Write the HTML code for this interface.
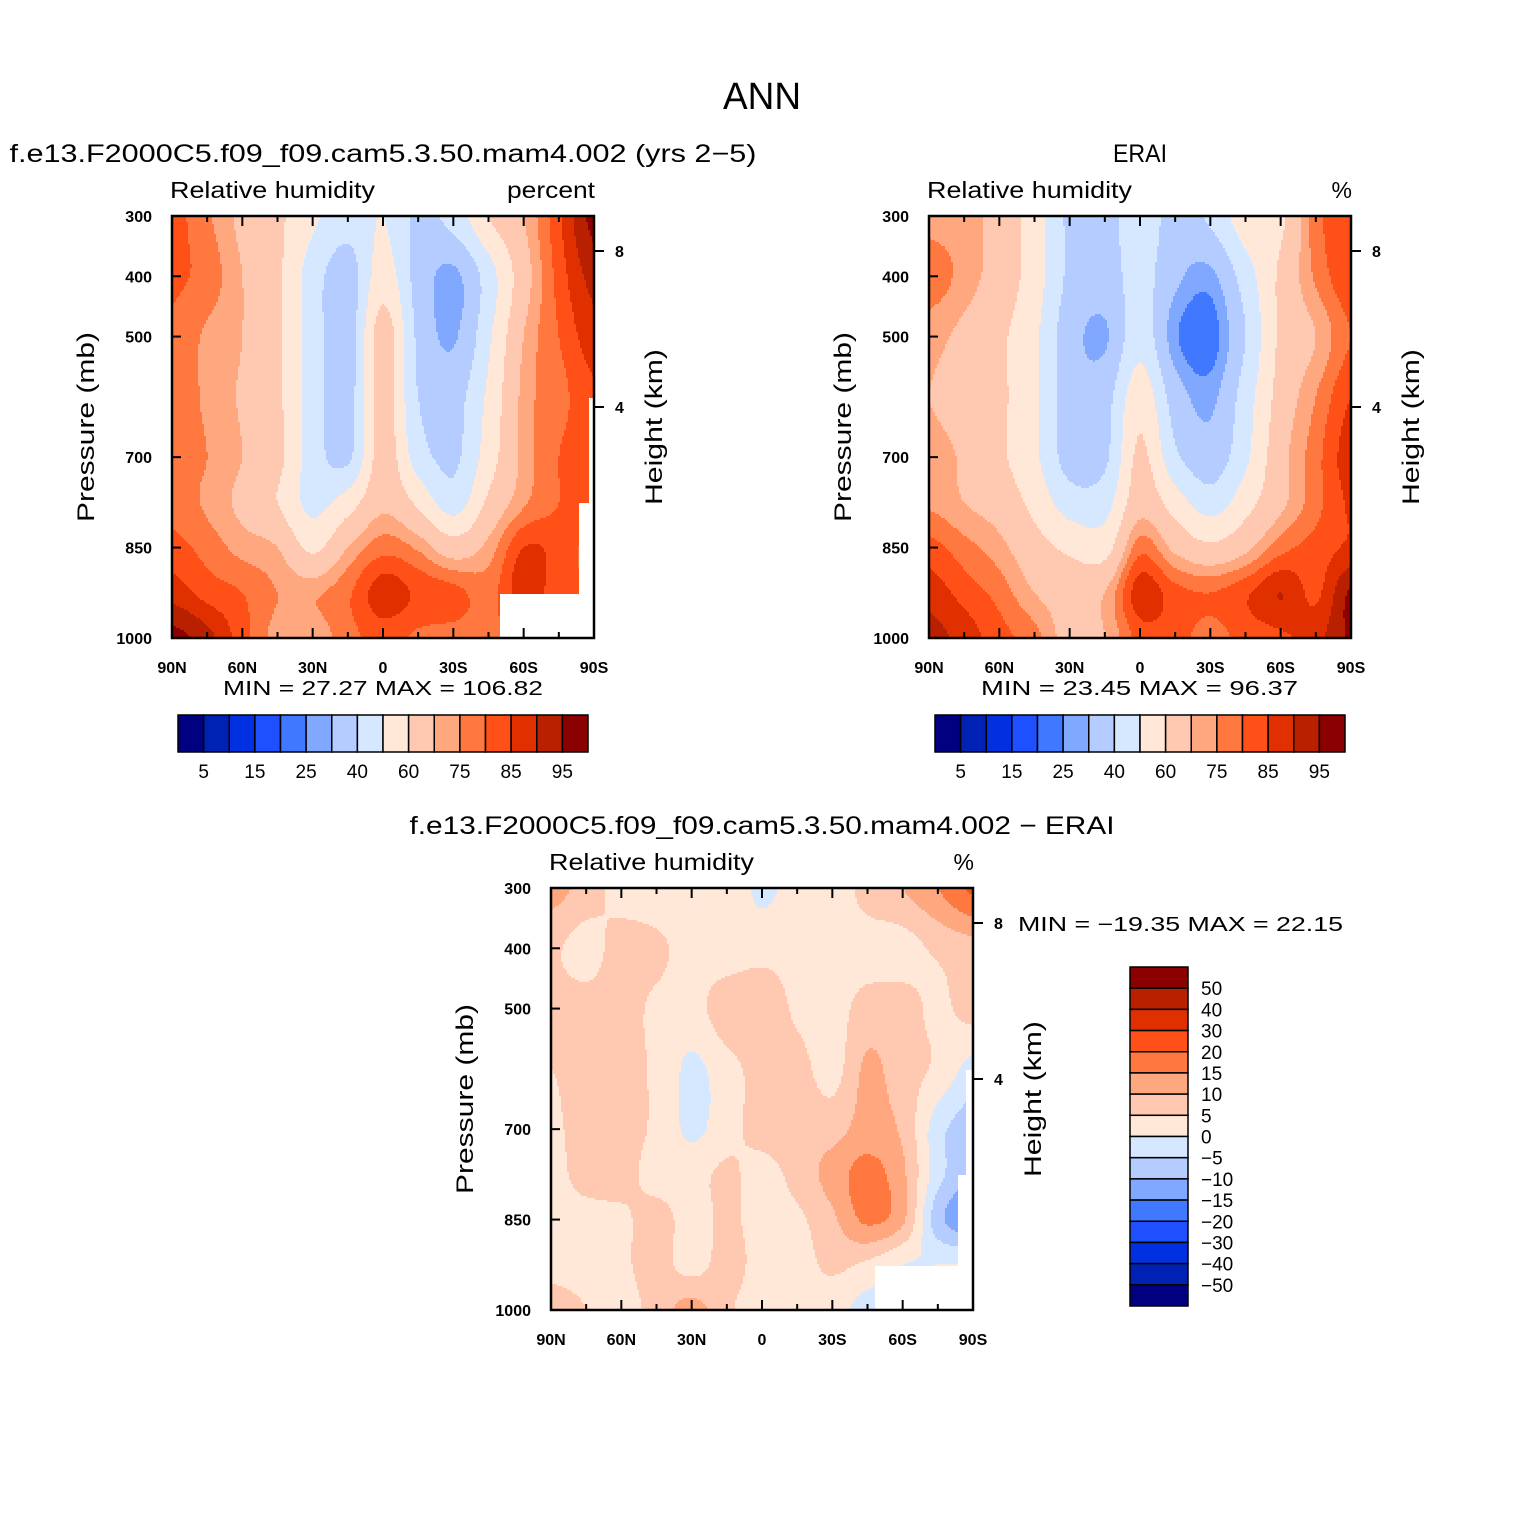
<!DOCTYPE html>
<html><head><meta charset="utf-8">
<style>
html,body{margin:0;padding:0;background:#fff;}
svg{display:block;font-family:"Liberation Sans",sans-serif;}
</style></head>
<body>
<svg id="fig" width="1524" height="1524" viewBox="0 0 1524 1524" xmlns="http://www.w3.org/2000/svg">
<rect x="0" y="0" width="1524" height="1524" fill="#fff"/>
<text x="762" y="109" font-size="38" text-anchor="middle" textLength="78" lengthAdjust="spacingAndGlyphs">ANN</text>
<g id="p1"></g>
<g id="p2"></g>
<g id="p3"></g>
</svg>
<script>
// ---- data ----
const colors = ["#000080","#0022b4","#0030e0","#1e50ff","#4078ff","#80a8ff","#b4ccff","#d6e8ff","#ffe8d8","#ffc8b0","#ffa880","#ff7840","#ff5018","#e03000","#b82000","#8b0000"];
const rhLevels = [5,10,15,20,25,30,40,50,60,70,75,80,85,90,95];
const diffLevels = [-50,-40,-30,-20,-15,-10,-5,0,5,10,15,20,30,40,50];
const rhLabels = ["5","15","25","40","60","75","85","95"];
const diffLabels = ["50","40","30","20","15","10","5","0","\u22125","\u221210","\u221215","\u221220","\u221230","\u221240","\u221250"];
const latLabels = ["90N","60N","30N","0","30S","60S","90S"];
const pressTicks = [300,400,500,700,850,1000];
const heightTicks = [8,4];
const pressRows = [300,400,500,600,700,775,850,925,1000];
// columns: 90N,75N,60N,45N,30N,15N,0,15S,30S,45S,60S,75S,90S
const modelRH = [
 [82,76,68,62,52,44,50,38,44,60,70,84,97],
 [81,78,70,62,45,35,55,36,28,45,66,82,92],
 [79,74,70,62,45,35,65,38,29,48,70,80,88],
 [78,74,69,62,45,36,64,40,36,52,72,78,84],
 [78,75,70,63,45,38,65,45,38,55,72,80,84],
 [78,74,68,60,47,55,68,58,45,62,74,80,84],
 [82,78,73,70,58,70,78,74,65,72,85,83,78],
 [88,83,80,75,74,79,88,84,82,78,88,82,80],
 [97,92,82,73,72,78,82,79,78,78,82,82,80]];
const eraiRH = [
 [73,72,67,55,38,36,46,36,42,56,58,78,83],
 [78,73,66,55,38,35,44,32,28,45,62,76,84],
 [72,68,62,52,34,29,46,26,22,40,62,70,80],
 [70,67,62,52,35,36,56,35,28,45,64,75,85],
 [72,69,62,52,36,38,62,42,34,48,67,78,88],
 [74,70,66,57,45,46,66,55,45,56,68,78,86],
 [82,77,72,64,58,56,78,68,62,68,78,82,86],
 [88,83,78,70,66,70,88,82,80,84,90,84,96],
 [92,88,82,77,67,70,82,82,78,82,84,88,96]];
const diffRH = [
 [12,8,3,2,2,3,-1,2,2,7,10,15,21],
 [6,3,7,6,3,2,3,3,3,3,3,6,8],
 [7,7,7,4,3,8,9,4,3,7,7,4,7],
 [5,7,7,4,-1,3,7,7,3,11,7,4,-2],
 [4,7,7,4,-1,3,7,8,8,12,9,-3,-8],
 [3,7,7,3,3,6,3,7,12,17,11,-3,-10],
 [3,3,4,7,3,6,3,4,9,16,11,-8,-14],
 [3,3,4,7,3,7,3,3,6,4,0,0,0],
 [8,5,3,7,12,6,2,2,2,-2,0,0,0]];
const mins = ["27.27","23.45","\u221219.35"];
const maxs = ["106.82","96.37","22.15"];

const NS="http://www.w3.org/2000/svg";
function el(parent,tag,attrs,txt){const e=document.createElementNS(NS,tag);for(const k in attrs)e.setAttribute(k,attrs[k]);if(txt!==undefined)e.textContent=txt;parent.appendChild(e);return e;}

function cr(p0,p1,p2,p3,t){return 0.5*((2*p1)+(-p0+p2)*t+(2*p0-5*p1+4*p2-p3)*t*t+(-p0+3*p1-3*p2+p3)*t*t*t);}
function sampleRow(row,u){const n=row.length;const i=Math.min(Math.floor(u),n-2);const t=u-i;
 const g=k=>row[Math.max(0,Math.min(n-1,k))];return cr(g(i-1),g(i),g(i+1),g(i+2),t);}
function sample(grid,u,p){
 let r=0;while(r<pressRows.length-2&&p>pressRows[r+1])r++;
 const t=(p-pressRows[r])/(pressRows[r+1]-pressRows[r]);
 const n=grid.length;const g=k=>sampleRow(grid[Math.max(0,Math.min(n-1,k))],u);
 return cr(g(r-1),g(r),g(r+1),g(r+2),t);}
function levelIndex(v,levels){let i=0;while(i<levels.length&&v>=levels[i])i++;return i;}

function drawPanel(id,x0,y0,grid,levels,opts){
 const g=document.getElementById(id);const W=422,H=422;
 const xs=lat=>x0+(90-lat)/180*W;
 const ys=p=>y0+(p-300)/700*H;
 const field=el(g,"g",{});
 
 
 const step=2;
 for(let y=0;y<H;y+=step){
  const p=300+(y+step/2)/H*700;
  let runStart=0,runIdx=-1;
  for(let x=0;x<=W;x+=step){
   let idx=-2;
   if(x<W){const u=(x+step/2)/W*12;idx=levelIndex(sample(grid,u,p),levels);}
   if(idx!==runIdx){
    if(runIdx>=0){const r=el(field,"rect",{x:x0+runStart,y:y0+y,width:x-runStart+0.6,height:step+0.6,fill:colors[runIdx]});
     
     }
    runStart=x;runIdx=idx;}
  }
 }
 if(opts.masks){for(const m of opts.masks){const r=el(g,"rect",{x:m[0],y:m[1],width:m[2],height:m[3],fill:"#fff"});
  
  }}
 const frame=el(g,"rect",{x:x0,y:y0,width:W,height:H,fill:"none",stroke:"#000","stroke-width":2.5});
 
 
 for(let lat=90;lat>=-90;lat-=15){const X=xs(lat);const L=(lat%30===0)?10:6;
  el(g,"line",{x1:X,y1:y0+H,x2:X,y2:y0+H-L,stroke:"#000","stroke-width":2});
  el(g,"line",{x1:X,y1:y0,x2:X,y2:y0+L,stroke:"#000","stroke-width":2});}
 latLabels.forEach((s,i)=>{const t=el(g,"text",{x:xs(90-i*30),y:y0+H+35,"font-size":16,"font-weight":"600","text-anchor":"middle"},s);
  
  });
 pressTicks.forEach(pv=>{const Y=ys(pv);el(g,"line",{x1:x0,y1:Y,x2:x0+9,y2:Y,stroke:"#000","stroke-width":2});
  const t=el(g,"text",{x:x0-20,y:Y+6,"font-size":16,"font-weight":"600","text-anchor":"end"},String(pv));
  
  });
 heightTicks.forEach(h=>{const Y=(h===8)?y0+35:y0+191;el(g,"line",{x1:x0+W,y1:Y,x2:x0+W+10,y2:Y,stroke:"#000","stroke-width":2});
  const t=el(g,"text",{x:x0+W+21,y:Y+6,"font-size":16,"font-weight":"600","text-anchor":"start"},String(h));
  
  });
 let t=el(g,"text",{x:x0-78,y:y0+211,"font-size":24,"text-anchor":"middle",textLength:190,lengthAdjust:"spacingAndGlyphs",transform:`rotate(-90 ${x0-78} ${y0+211})`},"Pressure  (mb)");
 
 
 t=el(g,"text",{x:x0+W+68,y:y0+211,"font-size":24,"text-anchor":"middle",textLength:156,lengthAdjust:"spacingAndGlyphs",transform:`rotate(-90 ${x0+W+68} ${y0+211})`},"Height  (km)");
 
 
 t=el(g,"text",{x:x0-2,y:y0-18,"font-size":23,textLength:205,lengthAdjust:"spacingAndGlyphs"},"Relative  humidity");
 
 
 const ua={x:x0+W+1,y:y0-18,"font-size":23,"text-anchor":"end"};
 if(opts.units==="percent"){ua.textLength=88;ua.lengthAdjust="spacingAndGlyphs";}
 t=el(g,"text",ua,opts.units);
 
 
 t=el(g,"text",{x:opts.titleX,y:opts.titleY,"font-size":25,"text-anchor":"middle",textLength:opts.titleLen,lengthAdjust:"spacingAndGlyphs"},opts.title);
 
 
}

function hbar(id,x0,y0){
 const g=document.getElementById(id);const bw=410/16;
 colors.forEach((c,i)=>{const r=el(g,"rect",{x:x0+i*bw,y:y0,width:bw,height:37,fill:c,stroke:"#000","stroke-width":1.5});
  
  });
 rhLabels.forEach((s,i)=>{const t=el(g,"text",{x:x0+(1+2*i)*bw,y:y0+63,"font-size":19,"text-anchor":"middle"},s);
  
  });
}

drawPanel("p1",172,216,modelRH,rhLevels,{units:"percent",title:"f.e13.F2000C5.f09_f09.cam5.3.50.mam4.002  (yrs  2\u22125)",titleX:383,titleY:162,titleLen:747,
 masks:[[500,594,94,44],[579,503,15,92],[589,398,5,110]]});
drawPanel("p2",929,216,eraiRH,rhLevels,{units:"%",title:"ERAI",titleX:1140,titleY:162,titleLen:54});
drawPanel("p3",551,888,diffRH,diffLevels,{units:"%",title:"f.e13.F2000C5.f09_f09.cam5.3.50.mam4.002  \u2212  ERAI",titleX:762,titleY:834,titleLen:705,
 masks:[[875,1266,84,44],[958,1175,14,135],[966,1070,6,110]]});

(function(){
 const g1=document.getElementById("p1"),g2=document.getElementById("p2"),g3=document.getElementById("p3");
 let t=el(g1,"text",{x:223,y:695,"font-size":20,textLength:320,lengthAdjust:"spacingAndGlyphs"},"MIN  =    "+mins[0]+"    MAX  =  "+maxs[0]);
 
 
 t=el(g2,"text",{x:981,y:695,"font-size":20,textLength:317,lengthAdjust:"spacingAndGlyphs"},"MIN  =    "+mins[1]+"    MAX  =    "+maxs[1]);
 
 
 t=el(g3,"text",{x:1018,y:931,"font-size":20,textLength:325,lengthAdjust:"spacingAndGlyphs"},"MIN  =  "+mins[2]+"    MAX  =    "+maxs[2]);
 
 
 hbar("p1",178,715);
 hbar("p2",935,715);
 const bh=339/16;
 for(let i=0;i<16;i++){const r=el(g3,"rect",{x:1130,y:967+i*bh,width:58,height:bh,fill:colors[15-i],stroke:"#000","stroke-width":1.5});
  
  }
 diffLabels.forEach((s,i)=>{const tt=el(g3,"text",{x:1201,y:967+(i+1)*bh+7,"font-size":19},s);
  
  });
})();
</script>
</body></html>
